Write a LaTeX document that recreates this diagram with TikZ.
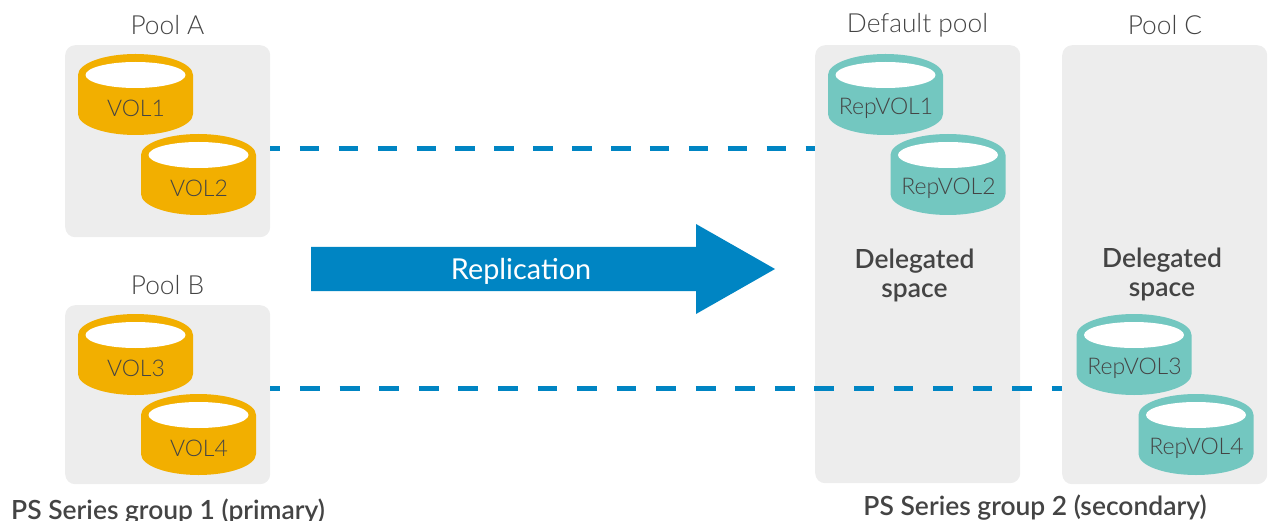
\documentclass[tikz,border=0pt]{standalone}
\usepackage{fontspec}
\setmainfont{Lato Light}[BoldFont=Lato Semibold]
\newfontfamily\regfont{Lato}
\usetikzlibrary{calc}
\definecolor{poolgrey}{HTML}{EDEDED}
\definecolor{gold}{HTML}{F2AF00}
\definecolor{teal2}{HTML}{73C7C0}
\definecolor{dellblue}{HTML}{0085C3}
\definecolor{ink}{HTML}{444444}
\tikzset{
  x=1pt,y=-1pt,
  pool/.style={fill=poolgrey,rounded corners=10pt,inner sep=0pt,anchor=north west},
  plabel/.style={text=ink,font=\fontsize{26.3}{30}\selectfont,inner sep=0pt},
  vlabel/.style={text=ink,font=\fontsize{23}{27}\selectfont,inner sep=0pt},
  dlabel/.style={text=ink,font=\fontsize{26.4}{28}\selectfont\bfseries,inner sep=0pt,align=center},
  glabel/.style={text=ink,font=\fontsize{26.4}{28}\selectfont\bfseries,inner sep=0pt},
  link/.style={draw=dellblue,line width=5pt},
}
\newcommand{\volcyl}[5]{% name, x, y, colour, label
  \fill[#4] (#2-57.5,#3) arc[start angle=180,end angle=0,x radius=57.5,y radius=-21]
     -- (#2+57.5,#3+39) arc[start angle=0,end angle=-180,x radius=57.5,y radius=-21] -- cycle;
  \fill[white] (#2,#3) ellipse[x radius=50,y radius=13];
  \node[vlabel] (#1) at (#2+0.5,#3+33) {#5};
}
\begin{document}
\begin{tikzpicture}
\useasboundingbox (0,0) rectangle (1273,521);
\node[pool,minimum width=205pt,minimum height=192pt] (poolA) at (65,45) {};
\node[pool,minimum width=205pt,minimum height=179pt] (poolB) at (65,305) {};
\node[pool,minimum width=205pt,minimum height=438pt] (poolD) at (815,45) {};
\node[pool,minimum width=205pt,minimum height=439pt] (poolC) at (1062,45) {};
\node[plabel] (lA) at (167.5,25) {Pool A};
\node[plabel] (lB) at (167.5,285) {Pool B};
\node[plabel] (lD) at (917.5,25) {Default pool};
\node[plabel] (lC) at (1165,25) {Pool C};
\volcyl{v1}{135.5}{75}{gold}{VOL1}
\volcyl{v2}{198.5}{155}{gold}{VOL2}
\volcyl{v3}{135.5}{335}{gold}{VOL3}
\volcyl{v4}{198.5}{415}{gold}{VOL4}
\volcyl{r1}{885.5}{75}{teal2}{RepVOL1}
\volcyl{r2}{948}{155}{teal2}{RepVOL2}
\volcyl{r3}{1134}{335}{teal2}{RepVOL3}
\volcyl{r4}{1196}{415}{teal2}{RepVOL4}
\draw[link,dash pattern=on 19.5pt off 19.4pt,dash phase=9.5pt] ($(poolA.east)+(0,7)$) -- ($(poolD.west |- poolA.east)+(0,7)$);
\draw[link,dash pattern=on 19.8pt off 19.76pt,dash phase=9.8pt] ($(poolB.east)+(0,-6.5)$) -- ($(poolC.west |- poolB.east)+(0,-6.5)$);
\fill[dellblue] (311,247) -- (696,247) -- (696,224) -- (775,269) -- (696,314) -- (696,291) -- (311,291) -- cycle;
\node[text=white,font=\regfont\fontsize{28.8}{32}\selectfont,inner sep=0pt] (rep) at (521,271.5) {Replication};
\node[dlabel] (d1) at (914.5,275) {Delegated\\[1pt]space};
\node[dlabel] (d2) at (1162,274) {Delegated\\[1pt]space};
\node[glabel,anchor=base west] (g1) at (11,519) {PS Series group 1 (primary)};
\node[glabel,anchor=base] (g2) at (1035,515.5) {PS Series group 2 (secondary)};
\end{tikzpicture}
\end{document}
